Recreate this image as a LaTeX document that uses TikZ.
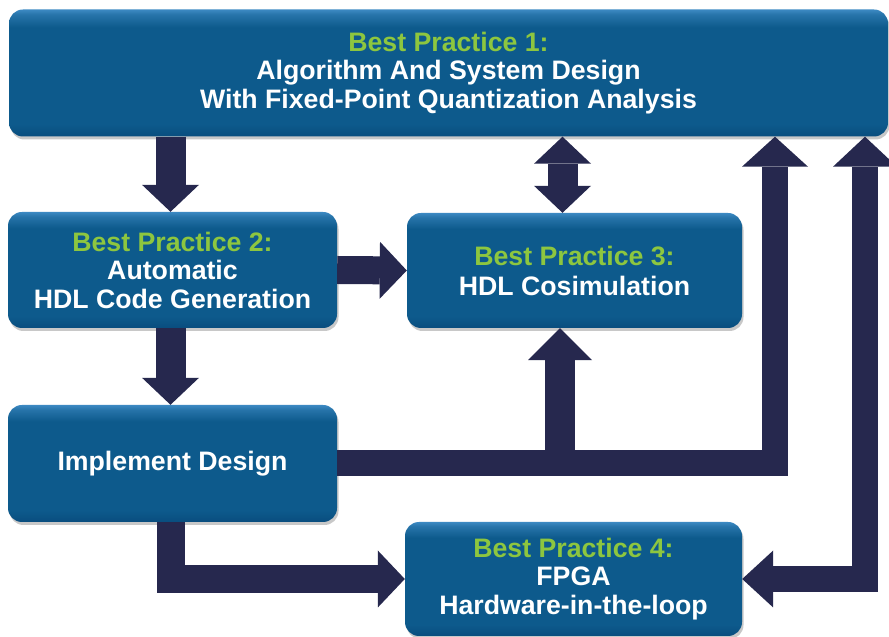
\documentclass[tikz,border=0pt]{standalone}
\usepackage{fontspec}
\setmainfont{Liberation Sans}
\usetikzlibrary{arrows.meta,shadows}
\definecolor{boxblue}{HTML}{0D5A8C}
\definecolor{boxtop}{HTML}{3C89C2}
\definecolor{boxbot}{HTML}{094D7E}
\definecolor{navy}{HTML}{26284E}
\definecolor{bpgreen}{HTML}{8DC63F}
\pgfdeclareverticalshading{boxshade}{100bp}{color(0bp)=(boxbot); color(25bp)=(boxbot); color(30bp)=(boxblue); color(68bp)=(boxblue); color(73bp)=(boxtop!55!boxblue); color(75bp)=(boxtop); color(100bp)=(boxtop)}
\begin{document}
\begin{tikzpicture}[x=1pt,y=1pt,
  box/.style={rounded corners=14pt, shading=boxshade, text=white,
    font=\fontsize{26.7}{28.5}\selectfont\bfseries, align=center, inner sep=0pt,
    drop shadow={shadow xshift=1.5pt, shadow yshift=-3pt, opacity=0.3, fill=black!70}},
  blk/.style={draw=navy, line width=30pt, line join=miter,
    -{Triangle[width=57pt,length=27pt,line width=0pt]}},
  blkthin/.style={draw=navy, line width=26pt, line join=miter,
    -{Triangle[width=66pt,length=30pt,line width=0pt]}},
  dblk/.style={draw=navy, line width=30pt,
    {Triangle[width=57pt,length=27pt,line width=0pt]}-{Triangle[width=57pt,length=27pt,line width=0pt]}},
  dblkthin/.style={draw=navy, line width=26pt, line join=miter,
    {Triangle[width=57pt,length=31pt,line width=0pt]}-{Triangle[width=64pt,length=30pt,line width=0pt]}}
]
\useasboundingbox (0,0) rectangle (889,637);
\fill[white] (0,0) rectangle (889,637);

\node[box, minimum width=879pt, minimum height=127pt] (b1) at (448.5,564)
  {\textcolor{bpgreen}{Best Practice 1:}\\Algorithm And System Design\\With Fixed-Point Quantization Analysis};
\node[box, minimum width=329pt, minimum height=116pt] (b2) at (172.5,367)
  {\textcolor{bpgreen}{Best Practice 2:}\\Automatic\\HDL Code Generation};
\node[box, minimum width=335pt, minimum height=115pt] (b3) at (574.5,366.5)
  {\textcolor{bpgreen}{Best Practice 3:}\\[1.5pt]HDL Cosimulation};
\node[box, minimum width=329pt, minimum height=117pt] (impl) at (172.5,173.5)
  {Implement Design};
\node[box, minimum width=337pt, minimum height=114pt] (b4) at (573.5,58)
  {\textcolor{bpgreen}{Best Practice 4:}\\FPGA\\Hardware-in-the-loop};

\coordinate (colA) at (775,0);
\coordinate (colB) at (865,0);

% connectors
\draw[blk] ([xshift=-2pt]b2.north |- b1.south) -- ([xshift=-2pt]b2.north);
\draw[dblk] ([xshift=-12pt]b3.north |- b1.south) -- ([xshift=-12pt]b3.north);
\draw[blk, line width=28pt] (b2.east) -- (b3.west);
\draw[blk] ([xshift=-2pt]b2.south) -- ([xshift=-2pt]impl.north);
\draw[blkthin] (impl.east) -| (colA |- b1.south);
\draw[blk, -{Triangle[width=64pt,length=32pt,line width=0pt]}] ([xshift=-14.5pt]b3.south |- impl.east) -- ([xshift=-14.5pt]b3.south);
\draw[dblkthin] (b4.east) -| (colB |- b1.south);
\draw[blk, line width=28pt] ([xshift=-2pt]impl.south) |- (b4.west);
\end{tikzpicture}
\end{document}
